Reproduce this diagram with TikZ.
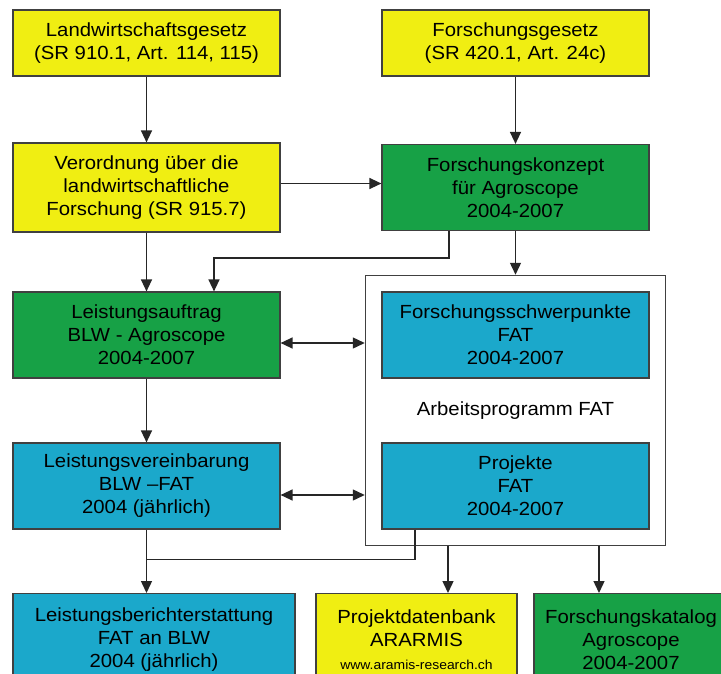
\documentclass[tikz,border=0pt]{standalone}
\usepackage{fontspec}
\setmainfont{Liberation Sans}[FakeStretch=1.07]
\usepackage{tikz}
\usetikzlibrary{arrows.meta, positioning, fit}

\definecolor{gelb}{HTML}{F0EE12}
\definecolor{gruen}{HTML}{17A146}
\definecolor{blau}{HTML}{1BA8CB}

\begin{document}
\begin{tikzpicture}[x=1pt,y=-1pt,on grid,>={Triangle[length=12pt,width=11pt]},
        every node/.style={font=\fontsize{19}{23}\selectfont},
        box/.style={draw=black!75,line width=1.2pt,align=center,inner sep=0pt,minimum width=267pt},
        law/.style={box,fill=gelb,minimum height=66pt},
        plan/.style={box,fill=gruen,minimum height=86pt},
        fat/.style={box,fill=blau,minimum height=86pt},
        frame/.style={draw=black!75,line width=1.3pt,inner sep=16pt},
        link/.style={draw=black!85,line width=1.4pt}]

    \clip (0,0) rectangle (721,673);
    \fill[white] (0,0) rectangle (721,673);

    % Gesetze
    \node[law]                   (lwg)  at (146.5,43) {Landwirtschaftsgesetz\\(SR 910.1, Art. 114, 115)};
    \node[law,right=369pt of lwg] (fg)                {Forschungsgesetz\\(SR 420.1, Art. 24c)};

    % Verordnung und Konzept
    \node[law,minimum height=89pt,below=144.5pt of lwg] (verordnung) {Verordnung über die\\landwirtschaftliche\\Forschung (SR 915.7)};
    \node[plan,right=369pt of verordnung]                (konzept)    {Forschungskonzept\\für Agroscope\\2004-2007};

    % Auftrag und Vereinbarung
    \node[plan,below=147.5pt of verordnung] (auftrag)  {Leistungsauftrag\\BLW - Agroscope\\2004-2007};
    \node[fat,right=369pt of auftrag]        (schwer)   {Forschungsschwerpunkte\\FAT\\2004-2007};
    \node[fat,below=151pt of auftrag]        (vereinb)  {Leistungsvereinbarung\\BLW --FAT\\2004 (jährlich)};
    \node[fat,right=369pt of vereinb]        (projekte) {Projekte\\FAT\\2004-2007};

    \node[frame,fit=(schwer)(projekte)] (apfat) {};
    \node (aplabel) at (apfat.center) {Arbeitsprogramm FAT};

    % untere Reihe
    \node[fat,anchor=north,minimum width=282pt,minimum height=92pt] (bericht)   at (154,593)   {Leistungsberichterstattung\\FAT an BLW\\2004 (jährlich)};
    \node[law,anchor=north,minimum width=201pt,minimum height=92pt] (datenbank) at (416.5,593) {Projektdatenbank\\ARARMIS\\{\fontsize{13}{16}\selectfont www.aramis-research.ch}};
    \node[plan,anchor=north,minimum width=194pt,minimum height=92pt] (katalog)  at (631,593)   {Forschungskatalog\\Agroscope\\2004-2007};

    % Verbindungen
    \draw[link,->] (lwg) -- (verordnung);
    \draw[link,->] (fg) -- (konzept);
    \draw[link,->] ([yshift=4pt]verordnung.east) -- ([yshift=4pt]konzept.west);
    \draw[link,->] ([xshift=-66.5pt]konzept.south) -- ++(0,27) -| ([xshift=67.5pt]auftrag.north);
    \draw[link,->] (konzept) -- (apfat);
    \draw[link,->] (verordnung) -- (auftrag);
    \draw[link,<->] ([yshift=-8pt]auftrag.east) -- ([yshift=-8pt]auftrag.east -| apfat.west);
    \draw[link,->] (auftrag) -- (vereinb);
    \draw[link,<->] ([yshift=-9pt]vereinb.east) -- ([yshift=-9pt]vereinb.east -| apfat.west);
    \draw[link,->] (vereinb.south) -- (vereinb.south |- bericht.north);
    \draw[link] ([xshift=-100.5pt]projekte.south) |- ([yshift=-30pt]vereinb.south);
    \draw[link,->] ([xshift=-67.5pt]apfat.south) -- ([xshift=-67.5pt]apfat.south |- datenbank.north);
    \draw[link,->] ([xshift=83.5pt]apfat.south) -- ([xshift=83.5pt]apfat.south |- katalog.north);
\end{tikzpicture}
\end{document}
